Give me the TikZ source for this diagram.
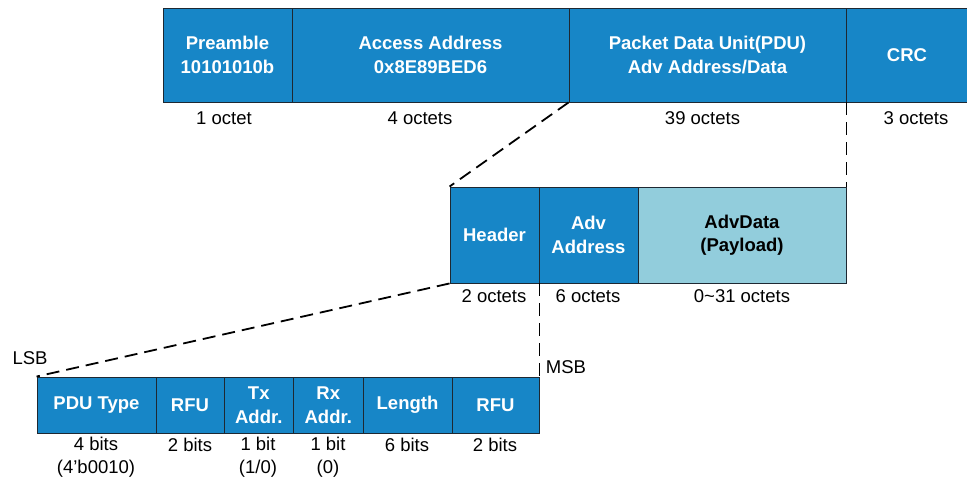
\documentclass[tikz,border=0pt]{standalone}
\usepackage{fontspec}
\setmainfont{Liberation Sans}
\definecolor{bleblue}{RGB}{23,134,199}
\definecolor{paylight}{RGB}{146,205,220}
\definecolor{edgec}{RGB}{30,40,50}
\begin{document}
\begin{tikzpicture}[x=1pt,y=-1pt,
  cell/.style={draw=edgec, line width=0.9pt, fill=bleblue, text=white, inner sep=0pt,
    font=\fontsize{18.5}{23.5}\selectfont\bfseries, align=center},
  light/.style={cell, fill=paylight, text=black},
  lbl/.style={inner sep=0pt, font=\fontsize{18.5}{23.5}\selectfont, align=center},
  dsh/.style={draw=black, line width=1.8pt, dash pattern=on 13pt off 7pt}]
\useasboundingbox (0,0) rectangle (967,481);
% top row
\node[cell, minimum width=129pt, minimum height=94pt] (pre) at (227.5,55) {Preamble\\10101010b};
\node[cell, minimum width=277pt, minimum height=94pt] (aa) at (430.5,55) {Access Address\\0x8E89BED6};
\node[cell, minimum width=277pt, minimum height=94pt] (pdu) at (707.5,55) {Packet Data Unit(PDU)\\Adv Address/Data};
\node[cell, minimum width=122pt, minimum height=94pt] (crc) at (907,55) {CRC};
\node[lbl] (l1) at (224,118) {1 octet};
\node[lbl] (l2) at (420,118) {4 octets};
\node[lbl] (l3) at (702.5,118) {39 octets};
\node[lbl] (l4) at (916,118) {3 octets};
% middle row
\node[cell, minimum width=89pt, minimum height=96pt] (hdr) at (494.5,235) {Header};
\node[cell, minimum width=99pt, minimum height=96pt] (adv) at (588.5,235) {Adv\\Address};
\node[light, minimum width=208pt, minimum height=96pt] (advd) at (742,235) {AdvData\\(Payload)};
\node[lbl] (m1) at (494,296) {2 octets};
\node[lbl] (m2) at (588,296) {6 octets};
\node[lbl] (m3) at (742,296) {0\textasciitilde 31 octets};
% bottom row
\node[cell, minimum width=119pt, minimum height=56pt] (b1) at (96.5,405) {PDU Type};
\node[cell, minimum width=68pt, minimum height=56pt] (b2) at (190,405) {RFU};
\node[cell, minimum width=69.5pt, minimum height=56pt] (b3) at (258.75,405) {Tx\\Addr.};
\node[cell, minimum width=69.5pt, minimum height=56pt] (b4) at (328.25,405) {Rx\\Addr.};
\node[cell, minimum width=89pt, minimum height=56pt] (b5) at (407.5,405) {Length};
\node[cell, minimum width=87pt, minimum height=56pt] (b6) at (495.5,405) {RFU};
\node[lbl] (c1) at (96,457) {4 bits\\(4'b0010)};
\node[lbl] (c2) at (190,445) {2 bits};
\node[lbl] (c3) at (258,457) {1 bit\\(1/0)};
\node[lbl] (c4) at (328,457) {1 bit\\(0)};
\node[lbl] (c5) at (407,445) {6 bits};
\node[lbl] (c6) at (495,445) {2 bits};
\node[lbl] (lsb) at (30,358) {LSB};
\node[lbl] (msb) at (566,367) {MSB};
% dashed connectors
\draw[dsh] (pdu.south west) -- (hdr.north west);
\draw[dsh] (pdu.south east) -- (advd.north east);
\draw[dsh] (hdr.south west) -- (b1.north west);
\draw[dsh] (hdr.south east) -- (b6.north east);
\end{tikzpicture}
\end{document}
